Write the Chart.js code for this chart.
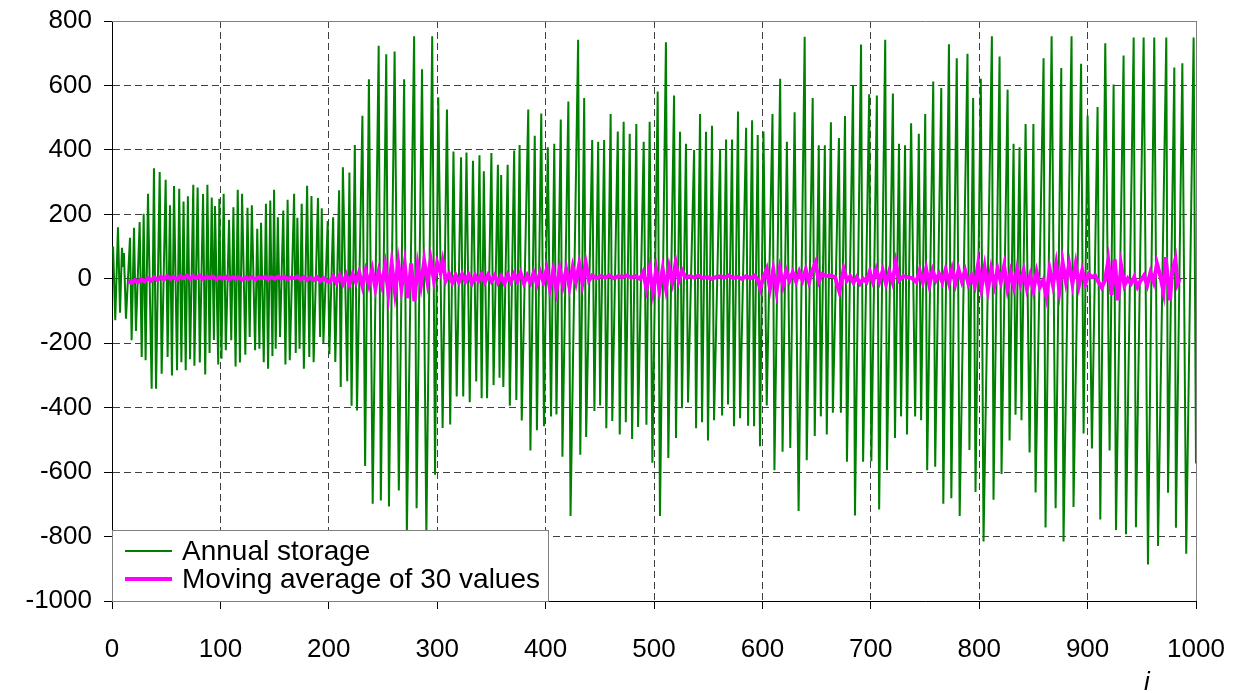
<!DOCTYPE html>
<html>
<head>
<meta charset="utf-8">
<title>Annual storage</title>
<script src="https://cdn.jsdelivr.net/npm/chart.js@4.4.1/dist/chart.umd.min.js"></script>
<style>
  html, body { margin: 0; padding: 0; background: #fff; }
  #chart { display: block; }
</style>
</head>
<body>
<canvas id="chart" width="1241" height="693"></canvas>
<script>
// green series: turning points (i, value)
const storageI = [
  1,3,5.5,7.4,9.2,10.2,11,12.9,16.6,18.1,20.3,22.1,25.5,27.4,29.2,31,33.2,36.6,38.7,40.6,44,45.8,49.5,51.3,53.5,55.3,57.2,60,62,64,66,68,70,72,75,76,79,81,84,86,88,90,92,94,95,98,
  99,101,103,105,108,110,112,114,116,118,120,123,125,127,129,132,134,136,137.5,140,142,144,146,148,149.5,151,153,155,158,160,162,164,168,169.5,171,173,175,177,180,182,184,186,190,192,193.5,195,199,
  200.5,204,206,209.5,211,213,217,219,221,224,226,231,233.5,237,240.5,246,248,253,255.5,260.7,264.6,269.5,272,278.7,281,286,290,295.4,298,
  301,305,309,312,315,318,322,324,327,330,333,336,339,341,343,346,350,352,356,357.5,359,361,365,367,371,373,376,378,384,386,390,392,396,398.5,
  402,405,408,410,414,415.5,421,423,430,432,435.6,437.4,443,445,448.5,450.3,454,456,460,461.5,466.6,468.4,472,474,477.6,479.8,483.7,485.3,490.5,493,496,498.5,
  503.4,505.5,511,513.2,518.5,520.3,524,525.8,529.5,531.4,537,538.8,542.5,544.3,548,549.8,553.5,555.4,561,562.8,566.5,568.3,572,573.8,577.5,579.4,585,586.8,590.5,592.3,595.7,597.8,
  601,604,609.3,611.1,616.4,618.6,622.6,625.7,629.7,633.4,639,640.9,646.4,648.3,652,653.9,657.6,659.4,663.2,665,670.6,672.4,676.2,678,683.6,685.4,691,692.9,698.5,
  700.5,705.6,707.7,713.3,714.9,720.4,722.3,726,727.9,731.6,733.4,737.2,740.9,744.3,746.4,750.2,752,757.6,759.4,765,766.9,772.1,774.3,779.3,782,789.2,791,794.4,796.6,
  801.5,804,811.7,813.2,818.8,820.6,826.2,828,831.7,833.5,837.2,839,842.8,846.5,850,852,859.4,861.2,866.8,870.5,875.7,877.8,885.2,887,894,896.3,
  900,904,909.2,911.7,916.3,920.3,924,926.2,933.2,935.4,942.5,944.6,951.7,955.7,961.5,965,972.6,974.2,980,981.5,987.4,991,997.8,1000
];
const storageVal = [
  100,-129,160,-105,96,40,80,-124,127,-191,158,-162,176,-243,202,-253,264,-341,343,-341,331,-295,307,-243,228,-300,288,-284,279,-259,240,-284,256,-250,292,-270,283,-260,263,-297,292,-230,252,-190,226,-266,
  248,-248,264,-222,183,-191,222,-272,276,-260,264,-236,220,-181,228,-222,155,-217,174,-259,233,-279,243,-240,276,-217,191,-181,212,-266,245,-253,264,-230,189,-217,233,-279,289,-243,257,-259,251,-181,219,-200,179,
  -234,191,-258,275,-336,346,-318,330,-394,415,-409,506,-581,619,-698,723,-688,697,-707,705,-657,619,-795,753,-712,650,-795,753,-608,
  563,-463,525,-452,395,-365,377,-365,392,-383,366,-319,383,-371,334,-371,390,-330,354,-307,322,-336,354,-394,398,-376,415,-440,525,-533,444,-470,513,-458,
  408,-427,419,-421,494,-552,550,-736,742,-546,561,-491,431,-410,425,-393,431,-464,511,-441,457,-483,487,-445,450,-497,480,-460,425,-453,487,-571,
  581,-736,734,-556,569,-494,456,-402,419,-384,400,-464,511,-445,456,-502,475,-439,400,-424,432,-390,432,-458,519,-433,469,-456,492,-458,446,-520,
  457,-393,511,-594,621,-537,425,-525,517,-721,751,-563,561,-488,414,-427,414,-483,486,-416,437,-416,505,-568,598,-735,727,-568,573,
  -566,569,-716,742,-594,575,-494,419,-427,414,-483,483,-427,450,-439,511,-594,612,-583,592,-698,728,-681,684,-736,698,-531,561,-662,
  621,-815,753,-686,690,-606,587,-502,419,-422,408,-439,480,-539,480,-663,684,-772,753,-712,654,-815,753,-708,667,-480,
  507,-527,533,-747,731,-533,603,-780,693,-793,749,-771,749,-887,749,-829,749,-664,656,-773,669,-853,749,-573
];

// moving average of 30 values
const avgI = [
  15,18,21,24,27,30,33,36,39,42, 45,48,51,54,57,60,63,66,69,72,
  75,78,81,84,87,90,93,96,99,102, 105,108,111,114,117,120,123,126,129,132,
  135,138,141,144,147,150,153,156,159,162, 165,168,171,174,177,180,183,186,189,192,
  195,198,201,204,207,210,213,216,219,222, 225,228,231,234,237,240,243,246,249,252,
  255,258,261,264,267,270,273,276,279,282, 285,288,291,294,297,300,303,305,308,311,
  314,317,320,323,326,329,332,335,338,341, 344,347,350,353,356,359,362,365,368,371,
  374,377,380,383,386,389,392,395,398,401, 404,407,410,413,416,419,422,425,428,431,
  434,437,440,443,447,451,455,459,463,467, 471,475,479,483,487,490,493,496,499,502,
  505,508,511,514,517,520,523,526,529,533, 537,541,545,549,553,557,561,565,569,573,
  577,581,585,589,593,596,598,601,604,607, 610,613,616,619,622,625,628,631,634,637,
  640,643,646,649,652,655,659,663,667,671, 675,678,681,684,687,690,693,696,699,702,
  705,708,711,714,717,720,723,726,730,734, 738,742,745,748,751,754,757,760,763,766,
  769,772,775,778,781,784,787,790,793,796, 799,802,805,808,811,814,817,820,823,826,
  829,832,835,838,841,844,847,850,853,856, 859,862,865,868,871,874,877,880,883,886,
  889,892,895,898,901,904,907,910,913,916, 919,922,925,928,931,934,937,940,943,946,
  949,952,955,958,961,964,967,970,972,976, 978,981,983,985
];
const avgVal = [
  -8,-12,-4,-10,-2,-8,2,-6,4,-4, 6,-2,8,0,6,-2,8,2,10,0,
  8,2,9,0,6,2,7,-1,5,1, 6,-2,5,0,4,-2,3,0,5,-2,
  4,1,6,-1,5,0,7,1,6,-1, 4,2,7,-2,5,-3,3,-4,5,-8,
  2,-6,-10,8,-12,10,-15,12,-18,14, -10,20,-22,24,-18,28,-30,22,-20,40,
  -45,48,-40,50,-30,45,-60,48,-70,40, -20,55,-10,58,-5,50,20,55,-5,15,
  -12,12,-10,14,-8,12,-14,10,-6,14, -10,12,-8,10,-12,8,-14,12,-10,15,
  -8,18,-14,10,-12,18,-16,20,-10,30, -30,25,-36,30,-20,28,-25,35,-10,45,
  -12,50,-5,10,2,8,4,10,2,8, 6,10,4,8,0,20,-30,30,-40,28,
  -35,30,-30,35,-10,50,-5,25,5,8, 4,10,2,6,0,5,8,4,10,2,
  6,0,8,2,10,-5,-30,5,30,-30, 28,-38,30,-20,25,-5,20,-8,22,-5,
  28,-10,25,50,-8,15,8,10,5,-40, 30,-5,8,-12,5,-15,0,-10,22,-10,
  28,-8,25,-15,22,-10,50,-5,8,5, 2,-10,25,-10,30,-20,25,-5,15,-10,
  28,-12,30,-15,28,-8,25,-15,10,-20, 45,-30,35,-35,30,-20,30,-10,40,-30,
  20,-25,30,-15,25,-30,10,-35,20,-25, -5,-55,30,-20,45,-35,50,-10,45,-15,
  45,-20,25,-15,15,5,10,-10,-27,-5, 55,-50,60,-67,40,-20,0,-15,5,-25,
  -5,10,-20,20,-10,47,10,-40,67,-67, 20,60,-15,0
];

const xTicks = [0, 100, 200, 300, 400, 500, 600, 700, 800, 900, 1000];
const yTicks = [-1000, -800, -600, -400, -200, 0, 200, 400, 600, 800];

const seriesNames = ["Annual storage", "Moving average of 30 values"];
const seriesColors = ["#008000", "#ff00ff"];

const storagePts = storageI.map((x, k) => ({ x: x, y: storageVal[k] }));
const avgPts = avgI.map((x, k) => ({ x: x, y: avgVal[k] }));

const FONT = "'Liberation Sans', Arial, sans-serif";

// frame, legend box and axis name
const extras = {
  id: "extras",
  afterDatasetsDraw(chart) {
    const ctx = chart.ctx;
    const a = chart.chartArea;
    ctx.save();
    // top / right frame
    ctx.strokeStyle = "#808080";
    ctx.lineWidth = 1;
    ctx.beginPath();
    ctx.moveTo(a.left, a.top + 0.5);
    ctx.lineTo(a.right + 0.5, a.top + 0.5);
    ctx.lineTo(a.right + 0.5, a.bottom);
    ctx.stroke();

    // legend box in lower-left corner
    const bx = a.left, bw = 436, bh = 71, by = a.bottom - bh;
    ctx.fillStyle = "#fff";
    ctx.fillRect(bx, by, bw, bh);
    ctx.strokeStyle = "#808080";
    ctx.strokeRect(bx + 0.5, by + 0.5, bw, bh);

    ctx.font = "28px " + FONT;
    ctx.textBaseline = "middle";
    ctx.fillStyle = "#000";
    const rows = [by + 21, by + 49];
    const widths = [2, 4];
    for (let k = 0; k < 2; k++) {
      ctx.strokeStyle = seriesColors[k];
      ctx.lineWidth = widths[k];
      ctx.beginPath();
      ctx.moveTo(bx + 13, rows[k]);
      ctx.lineTo(bx + 60, rows[k]);
      ctx.stroke();
      ctx.fillText(seriesNames[k], bx + 70, rows[k] + 1);
    }

    // axis name
    ctx.font = "italic 26px " + FONT;
    ctx.textAlign = "center";
    ctx.fillText("i", a.right - 49, 683);
    ctx.restore();
  }
};

new Chart(document.getElementById("chart"), {
  type: "line",
  data: {
    datasets: [
      {
        label: seriesNames[1],
        data: avgPts,
        borderColor: seriesColors[1],
        borderWidth: 4,
        pointRadius: 0,
        tension: 0,
        order: 0
      },
      {
        label: seriesNames[0],
        data: storagePts,
        borderColor: seriesColors[0],
        borderWidth: 2,
        pointRadius: 0,
        tension: 0,
        order: 1
      }
    ]
  },
  options: {
    responsive: false,
    animation: false,
    events: [],
    layout: { padding: { left: 0, top: 21, right: 45, bottom: 0 } },
    plugins: {
      legend: { display: false },
      tooltip: { enabled: false }
    },
    scales: {
      x: {
        type: "linear",
        min: 0,
        max: 1000,
        afterBuildTicks: (s) => { s.ticks = xTicks.map(v => ({ value: v })); },
        afterFit: (s) => { s.height = 92; s.paddingLeft = 0; s.paddingRight = 0; },
        ticks: {
          color: "#000",
          font: { family: FONT, size: 26 },
          padding: 25,
          maxRotation: 0,
          callback: (v) => String(v)
        },
        grid: {
          color: "#404040",
          lineWidth: 1,
          tickLength: 8,
          tickColor: "#000",
          tickBorderDash: [1, 0]
        },
        border: { display: true, color: "#000", width: 1, dash: [7, 4] }
      },
      y: {
        type: "linear",
        min: -1000,
        max: 800,
        afterBuildTicks: (s) => { s.ticks = yTicks.map(v => ({ value: v })); },
        afterFit: (s) => { s.width = 112; s.paddingTop = 0; s.paddingBottom = 0; },
        ticks: {
          color: "#000",
          font: { family: FONT, size: 26 },
          padding: 12,
          callback: (v) => String(v)
        },
        grid: {
          color: "#404040",
          lineWidth: 1,
          tickLength: 8,
          tickColor: "#000",
          tickBorderDash: [1, 0]
        },
        border: { display: true, color: "#000", width: 1, dash: [7, 4] }
      }
    }
  },
  plugins: [extras]
});
</script>
</body>
</html>
